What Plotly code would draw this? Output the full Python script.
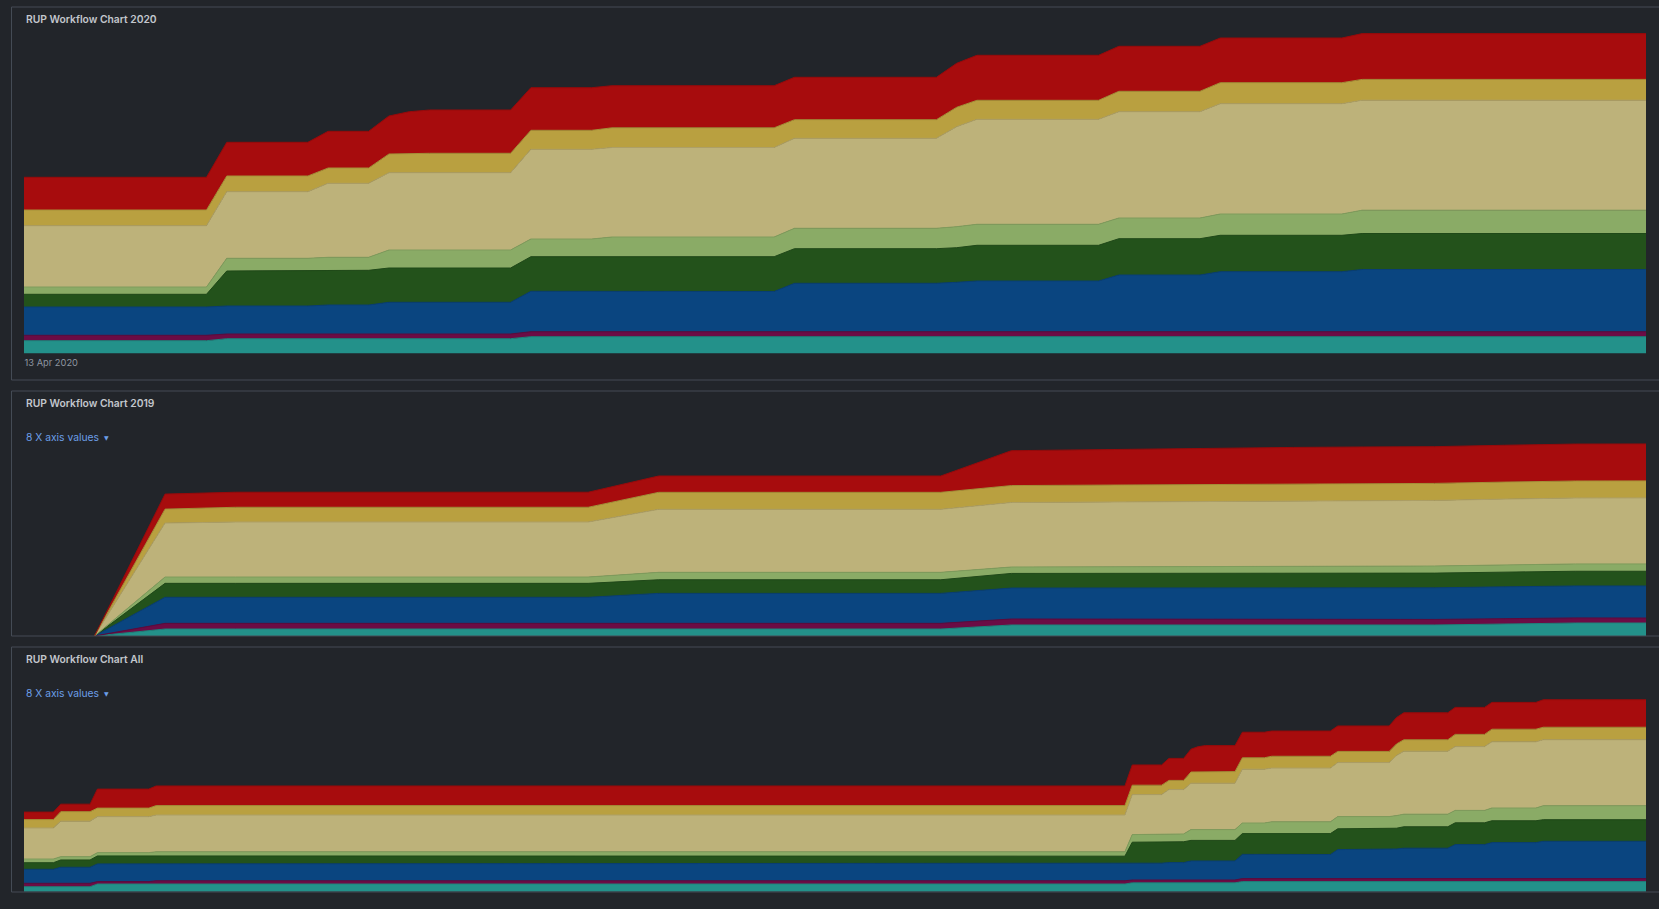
import plotly.graph_objects as go

W, H = 1659, 909
BG = "#22252a"

# ---------------- data ----------------
layer_names = ["Environment", "Configuration & Change Mgmt", "Implementation", "Test",
               "Deployment", "Analysis & Design", "Requirements", "Business Modeling"]
layer_colors = ["#23918a", "#6b0c45", "#0a4580", "#23521b",
                "#8aab66", "#bdb27a", "#b9a040", "#a70c0d"]
edge_colors = ["#1f837c", "#5e0a3c", "#093e74", "#1f4918",
               "#7e9c5c", "#ad9f66", "#a68f38", "#960a0b"]

# 2020 panel (daily series, points where values change)
dates_2020 = ["2020-04-13", "2020-04-22", "2020-04-23", "2020-04-27", "2020-04-28",
              "2020-04-30", "2020-05-01", "2020-05-02", "2020-05-03", "2020-05-07",
              "2020-05-08", "2020-05-11", "2020-05-12", "2020-05-20", "2020-05-21",
              "2020-05-28", "2020-05-29", "2020-05-30", "2020-06-05", "2020-06-06",
              "2020-06-10", "2020-06-11", "2020-06-17", "2020-06-18", "2020-07-02"]
teal_2020 = [12.8, 12.8, 14.8, 14.8, 14.8, 14.8, 14.8, 14.8, 14.8, 14.8, 16.8, 16.8, 16.8,
             16.8, 16.8, 16.8, 16.8, 16.8, 16.8, 16.8, 16.8, 16.8, 16.8, 16.8, 16.8]
maroon_2020 = [5.4, 5.4, 4.7, 4.7, 4.7, 4.7, 4.7, 4.7, 4.7, 4.7, 5.0, 5.0, 5.0,
               5.0, 5.0, 5.0, 5.0, 5.0, 5.0, 5.0, 5.0, 5.0, 5.0, 5.0, 5.0]
blue_2020 = [28.3, 28.3, 28.0, 28.0, 29.0, 29.0, 31.7, 31.7, 31.7, 31.7, 40.4, 40.4, 40.2,
             40.2, 48.4, 48.4, 49.4, 50.7, 50.7, 56.7, 56.7, 60.0, 60.0, 62.2, 62.2]
dgreen_2020 = [12.7, 12.7, 35.0, 35.0, 34.7, 34.7, 34.3, 34.3, 34.3, 34.3, 34.6, 34.6, 34.8,
               34.8, 34.6, 34.6, 34.6, 35.7, 35.7, 36.3, 36.3, 36.4, 36.4, 36.0, 36.0]
lgreen_2020 = [7.3, 7.3, 12.7, 12.7, 13.0, 13.0, 18.0, 18.0, 18.0, 18.0, 17.7, 17.7, 19.7,
               19.7, 20.4, 20.4, 21.0, 21.0, 21.0, 20.7, 20.7, 21.3, 21.3, 23.3, 23.3]
beige_2020 = [61.3, 61.3, 66.6, 66.6, 74.0, 74.0, 77.3, 77.3, 77.3, 77.3, 89.7, 89.7, 89.5,
              89.5, 90.0, 90.0, 100.0, 105.0, 105.0, 106.3, 106.3, 110.3, 110.3, 110.0, 110.0]
gold_2020 = [15.7, 15.7, 15.7, 15.7, 15.3, 15.3, 18.7, 19.0, 19.4, 19.4, 19.0, 19.0, 19.7,
             19.7, 18.6, 18.6, 19.4, 19.0, 19.0, 20.4, 20.4, 21.0, 21.0, 20.8, 20.8]
red_2020 = [32.7, 32.7, 33.7, 33.7, 36.7, 36.7, 38.0, 42.0, 43.3, 43.3, 42.6, 42.6, 42.1,
            42.1, 42.4, 42.4, 44.0, 45.0, 45.0, 45.0, 45.0, 44.7, 44.7, 45.8, 45.8]

# 2019 panel
dates_2019 = ["2019-11-23", "2019-11-24", "2019-11-25", "2019-11-26", "2019-11-27",
              "2019-11-28", "2019-11-29", "2019-11-30", "2019-12-01", "2019-12-02",
              "2019-12-03", "2019-12-04", "2019-12-05", "2019-12-06", "2019-12-07",
              "2019-12-08", "2019-12-09", "2019-12-10", "2019-12-11", "2019-12-12",
              "2019-12-13", "2019-12-14", "2019-12-15"]
teal_2019 = [0, 6.4, 6.4, 6.4, 6.4, 6.4, 6.4, 6.4, 6.4, 6.4, 6.4, 6.4, 6.4,
             10.1, 10.1, 10.1, 10.1, 10.1, 10.1, 10.1, 11.0, 11.9, 11.9]
maroon_2019 = [0, 5.2, 5.2, 5.2, 5.2, 5.2, 5.2, 5.2, 5.2, 5.2, 5.2, 5.2, 5.2,
               5.5, 5.5, 5.4, 5.4, 5.3, 5.2, 5.1, 4.9, 4.7, 4.6]
blue_2019 = [0, 23.9, 23.9, 23.9, 23.9, 23.9, 23.9, 23.9, 27.5, 27.5, 27.5, 27.5, 27.5,
             28.4, 28.5, 28.6, 28.7, 28.8, 28.9, 29.0, 29.2, 29.3, 29.4]
dgreen_2019 = [0, 12.8, 12.8, 12.8, 12.8, 12.8, 12.8, 12.8, 12.5, 12.5, 12.5, 12.5, 12.5,
               13.4, 13.4, 13.4, 13.5, 13.5, 13.5, 13.5, 13.5, 13.5, 13.5]
lgreen_2019 = [0, 5.8, 5.8, 5.8, 5.8, 5.8, 5.8, 5.8, 6.8, 6.8, 6.8, 6.8, 6.8,
               5.9, 6.0, 6.1, 6.2, 6.3, 6.4, 6.5, 6.6, 6.7, 6.7]
beige_2019 = [0, 49.5, 50.5, 50.5, 50.5, 50.5, 50.5, 50.5, 57.8, 57.8, 57.8, 57.8, 57.8,
              59.2, 59.4, 59.6, 59.8, 60.0, 60.1, 60.2, 60.4, 60.5, 60.6]
gold_2019 = [0, 12.8, 13.5, 13.5, 13.5, 13.5, 13.5, 13.5, 15.6, 15.6, 15.6, 15.6, 15.6,
             15.5, 15.5, 15.5, 15.6, 15.6, 15.6, 15.6, 15.6, 15.6, 15.6]
red_2019 = [0, 13.8, 13.8, 13.8, 13.8, 13.8, 13.8, 13.8, 15.0, 15.0, 15.0, 15.0, 15.0,
            32.0, 32.5, 32.9, 33.2, 33.4, 33.6, 33.7, 33.8, 33.9, 33.9]

# "All" panel: early points before the 2020 series
dates_early = ["2019-11-24", "2019-11-28", "2019-11-29", "2019-12-03",
               "2019-12-04", "2019-12-11", "2019-12-12"]
teal_early = [8.3, 8.3, 8.3, 8.3, 12.8, 12.8, 12.8]
maroon_early = [5.7, 5.7, 5.7, 5.7, 4.0, 4.0, 5.4]
blue_early = [23.3, 23.3, 26.7, 26.7, 29.5, 29.5, 28.3]
dgreen_early = [11.0, 11.0, 12.2, 12.2, 13.3, 13.3, 12.7]
lgreen_early = [6.2, 6.2, 5.5, 5.5, 5.5, 5.5, 7.3]
beige_early = [51.7, 51.7, 59.2, 59.2, 60.0, 60.0, 61.3]
gold_early = [14.0, 14.0, 15.8, 15.8, 14.2, 14.2, 15.7]
red_early = [12.5, 12.5, 12.5, 12.5, 31.7, 31.7, 32.7]

series_2020 = [teal_2020, maroon_2020, blue_2020, dgreen_2020,
               lgreen_2020, beige_2020, gold_2020, red_2020]
series_2019 = [teal_2019, maroon_2019, blue_2019, dgreen_2019,
               lgreen_2019, beige_2019, gold_2019, red_2019]
series_early = [teal_early, maroon_early, blue_early, dgreen_early,
                lgreen_early, beige_early, gold_early, red_early]
dates_all = dates_early + dates_2020
series_all = [e + s for e, s in zip(series_early, series_2020)]

titles = ["RUP Workflow Chart 2020", "RUP Workflow Chart 2019", "RUP Workflow Chart All"]

# ---------------- layout helpers ----------------
def fx(p):
    return p / W

def fy(p):
    return 1 - p / H

PLOT_L, PLOT_R = 24, 1646
# (top px, bottom px, px per unit) of each plot area
plot_boxes = [(25, 353.5, 1.0), (434, 636, 1.09), (690, 891.7, 0.6)]
panel_boxes = [(7, 380), (391, 636), (647, 892)]
x_ranges = [["2020-04-13", "2020-07-02"], ["2019-11-22", "2019-12-15"],
            ["2019-11-24", "2020-07-02"]]
panel_data = [(dates_2020, series_2020), (dates_2019, series_2019), (dates_all, series_all)]

fig = go.Figure()
for k, (xs, ys_list) in enumerate(panel_data):
    sfx = "" if k == 0 else str(k + 1)
    for name, ys, fc, lc in zip(layer_names, ys_list, layer_colors, edge_colors):
        fig.add_trace(go.Scatter(
            x=xs, y=ys, name=name, mode="lines", stackgroup=f"g{k}",
            line=dict(color=lc, width=1, shape="linear"), fillcolor=fc,
            xaxis="x" + sfx, yaxis="y" + sfx, hoverinfo="skip", showlegend=False))

layout = dict(
    width=W, height=H, autosize=False,
    margin=dict(l=0, r=0, t=0, b=0, pad=0),
    paper_bgcolor=BG, plot_bgcolor=BG,
    font=dict(family="Inter", color="#c8ccd2"),
    showlegend=False, hovermode=False,
)
for k in range(3):
    sfx = "" if k == 0 else str(k + 1)
    top, bot, scale = plot_boxes[k]
    xa = dict(domain=[fx(PLOT_L), fx(PLOT_R)], range=x_ranges[k], type="date",
              showgrid=False, zeroline=False, showline=False, fixedrange=True,
              anchor="y" + sfx)
    if k == 0:
        xa.update(tickvals=["2020-04-13"], ticktext=["13 Apr 2020"],
                  ticklabelposition="outside right", ticks="outside", ticklen=4,
                  tickcolor="rgba(0,0,0,0)",
                  tickfont=dict(family="Inter", size=9.3, color="#8e95a0"))
    else:
        xa.update(showticklabels=False, ticks="")
    ya = dict(domain=[fy(bot), fy(top)], range=[0, (bot - top) / scale],
              visible=False, fixedrange=True, anchor="x" + sfx)
    layout["xaxis" + sfx] = xa
    layout["yaxis" + sfx] = ya

shapes = []
annotations = []
for k, (t, b) in enumerate(panel_boxes):
    shapes.append(dict(type="rect", xref="paper", yref="paper",
                       x0=fx(11.5), x1=fx(1700), y0=fy(b), y1=fy(t),
                       line=dict(color="#444b55", width=1), fillcolor="rgba(0,0,0,0)",
                       layer="above"))
title_y = [19, 403, 659]
for k in range(3):
    annotations.append(dict(text=titles[k], xref="paper", yref="paper",
                            x=fx(23.5), y=fy(title_y[k]), xanchor="left", yanchor="middle",
                            showarrow=False,
                            font=dict(family="Inter", size=10.3, color="#c3c7cd", weight=600)))
for yy in [437, 693]:
    annotations.append(dict(text="8 X axis values", xref="paper", yref="paper",
                            x=fx(23.5), y=fy(yy), xanchor="left", yanchor="middle",
                            showarrow=False,
                            font=dict(family="Inter", size=10.3, color="#6c9fe8")))
    annotations.append(dict(text="▼", xref="paper", yref="paper",
                            x=fx(106.5), y=fy(yy), xanchor="center", yanchor="middle",
                            showarrow=False,
                            font=dict(family="DejaVu Sans", size=6, color="#6c9fe8")))
layout["shapes"] = shapes
layout["annotations"] = annotations
fig.update_layout(**layout)

fig.write_html("out.html", config={"displayModeBar": False, "staticPlot": True})
